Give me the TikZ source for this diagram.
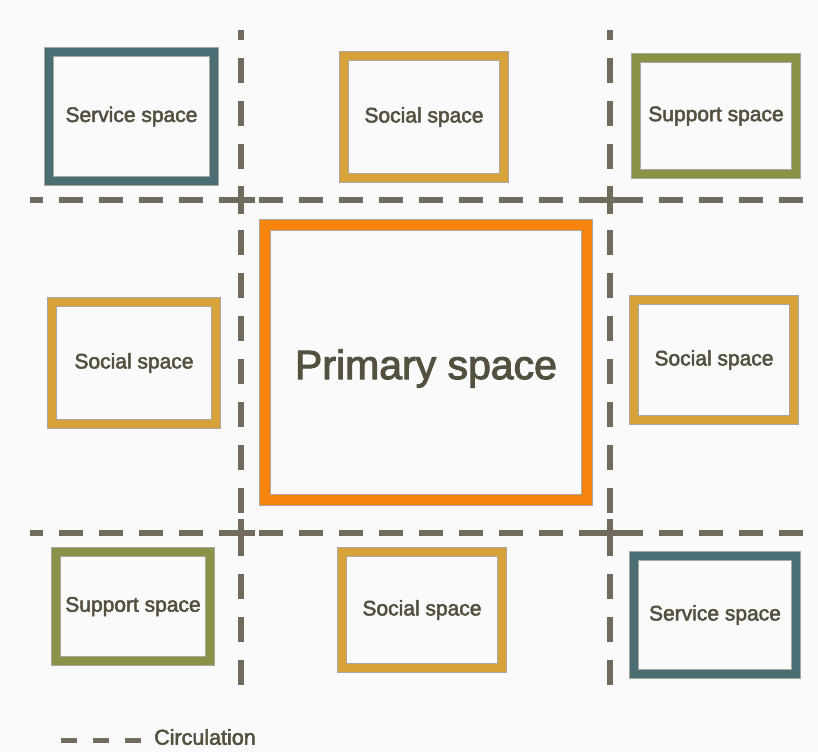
\documentclass[tikz,border=0pt]{standalone}
\usepackage{fontspec}
\newfontfamily\labfont{Liberation Sans}[FakeBold=2.4]
\definecolor{bgc}{RGB}{250,250,250}
\definecolor{ink}{RGB}{84,80,64}
\definecolor{dashc}{RGB}{112,107,92}
\definecolor{rim}{RGB}{90,86,72}
\definecolor{tealc}{RGB}{74,110,116}
\definecolor{mustard}{RGB}{216,162,58}
\definecolor{olive}{RGB}{140,145,72}
\definecolor{orangec}{RGB}{247,132,15}
\tikzset{
  space/.style={draw=#1, line width=7.5pt, inner sep=0pt, text=ink,
    font=\labfont\fontsize{21}{25}\selectfont,
    preaction={draw=rim, line width=9.5pt, draw opacity=0.5}},
  hcirc/.style={draw=dashc, line width=5.5pt, dash pattern=on 24pt off 16pt, dash phase=11pt},
  vcirc/.style={draw=dashc, line width=6pt, dash pattern=on 25pt off 18pt, dash phase=15pt},
  crossarm/.style={draw=dashc, line width=6.5pt},
  legenddash/.style={draw=dashc, line width=5pt, dash pattern=on 16pt off 16pt},
}
\begin{document}
\begin{tikzpicture}[x=1pt,y=-1pt]
\fill[bgc] (0,0) rectangle (818,752);
\useasboundingbox (0,0) rectangle (818,752);
% circulation lines
\coordinate (h1a) at (30,200); \coordinate (h1b) at (818,200);
\coordinate (h2a) at (30,533); \coordinate (h2b) at (818,533);
\coordinate (v1a) at (241,30); \coordinate (v1b) at (241,692);
\coordinate (v2a) at (610,30); \coordinate (v2b) at (610,692);
\draw[hcirc] (h1a) -- (h1b);
\draw[hcirc] (h2a) -- (h2b);
\draw[vcirc] (v1a) -- (v1b);
\draw[vcirc] (v2a) -- (v2b);
% crosses at intersections
\foreach \n/\x/\y in {c1/241/200, c2/610/200, c3/241/533, c4/610/533}{
  \coordinate (\n) at (\x,\y);
  \draw[crossarm] ([xshift=-14pt]\n) -- ([xshift=14pt]\n);
  \draw[crossarm] ([yshift=-14pt]\n) -- ([yshift=14pt]\n);
}
% spaces
\node[space=tealc, minimum width=165pt, minimum height=129pt] (svc1) at (131.5,116.5) {Service space};
\node[space=mustard, minimum width=160pt, minimum height=122pt] (soc1) at (424,117) {Social space};
\node[space=olive, minimum width=160pt, minimum height=116pt] (sup1) at (716,116) {Support space};
\node[space=mustard, minimum width=164pt, minimum height=122pt] (soc2) at (134,363) {Social space};
\node[space=orangec, line width=9.5pt, preaction={draw=rim, line width=12pt, draw opacity=0.5},
      minimum width=322pt, minimum height=275pt, font=\labfont\fontsize{41}{47}\selectfont] (prim) at (426,362.5) {\raisebox{-6pt}[\height][\depth]{Primary space}};
\node[space=mustard, minimum width=160pt, minimum height=120pt] (soc3) at (714,360) {Social space};
\node[space=olive, minimum width=154pt, minimum height=109pt] (sup2) at (133,606.5) {Support space};
\node[space=mustard, minimum width=160pt, minimum height=116pt] (soc4) at (422,610) {Social space};
\node[space=tealc, minimum width=162pt, minimum height=118pt] (svc2) at (715,615) {Service space};
% legend
\coordinate (la) at (61,740); \coordinate (lb) at (141,740);
\draw[legenddash] (la) -- (lb);
\node[anchor=west, text=ink, font=\labfont\fontsize{21.5}{25}\selectfont, inner sep=0pt] (leg) at (154,737) {Circulation};
\end{tikzpicture}
\end{document}
